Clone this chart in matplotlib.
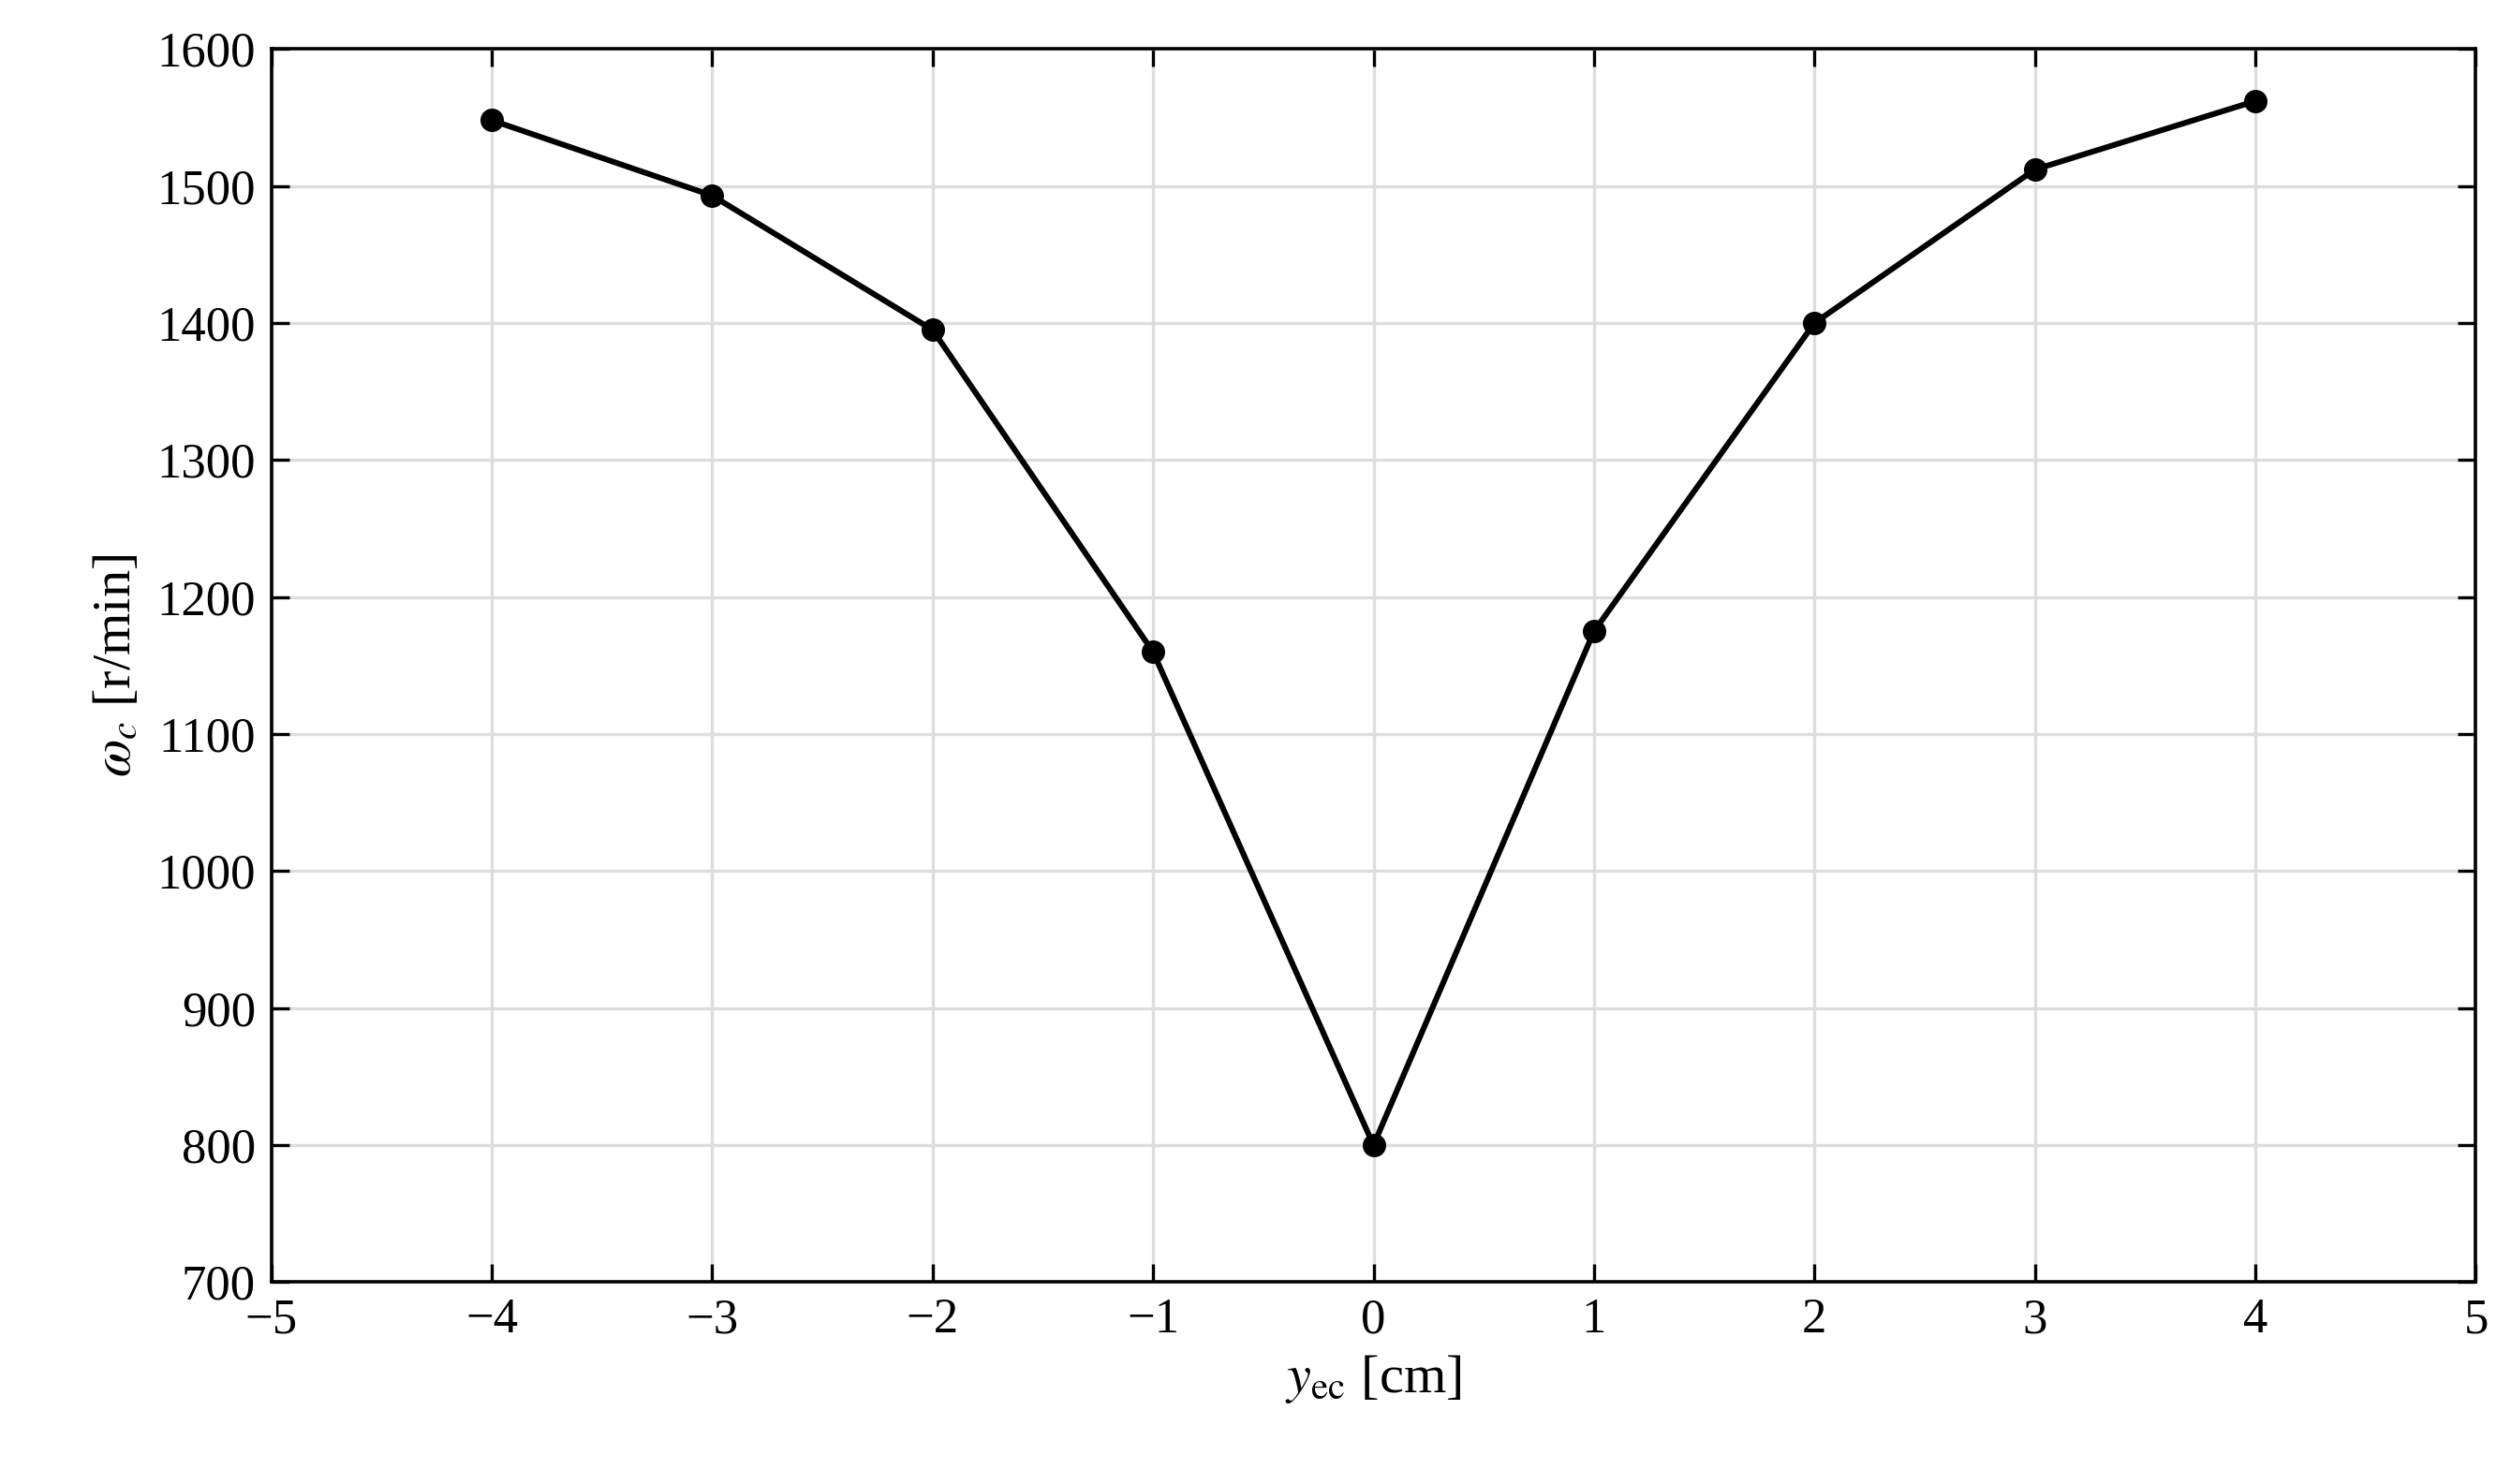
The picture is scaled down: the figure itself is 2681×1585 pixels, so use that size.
import matplotlib
matplotlib.use("Agg")
import matplotlib.pyplot as plt

y_ec = [-4, -3, -2, -1, 0, 1, 2, 3, 4]
omega_c = [1548, 1493, 1395, 1160, 800, 1175, 1400, 1512, 1562]
xticks = [-5, -4, -3, -2, -1, 0, 1, 2, 3, 4, 5]
yticks = [700, 800, 900, 1000, 1100, 1200, 1300, 1400, 1500, 1600]

plt.rcParams['font.family'] = ['Liberation Serif', 'DejaVu Serif']
plt.rcParams['mathtext.fontset'] = 'stix'
fig = plt.figure(figsize=(13.405, 7.925), dpi=200)
ax = fig.add_axes([0.108, 0.136, 0.878, 0.831])
ax.plot(y_ec, omega_c, color='black', lw=2.2, marker='o', ms=8)
ax.set_xlim(-5, 5)
ax.set_ylim(700, 1600)
ax.set_xticks(xticks)
ax.set_xticklabels([f"\u2212{abs(t)}" if t < 0 else str(t) for t in xticks])
ax.set_yticks(yticks)
ax.grid(True, color='#dddddd', lw=1.2)
ax.set_axisbelow(True)
ax.tick_params(direction='in', top=True, right=True, labelsize=19, length=7, width=1.2, pad=6)
for s in ax.spines.values():
    s.set_linewidth(1.3)
ax.set_xlabel(r"$y_{\mathrm{ec}}$ [cm]", fontsize=21, labelpad=4)
ax.set_ylabel(r"$\omega_c$ [r/min]", fontsize=21, labelpad=6)
fig.savefig("out.png", dpi=200)
